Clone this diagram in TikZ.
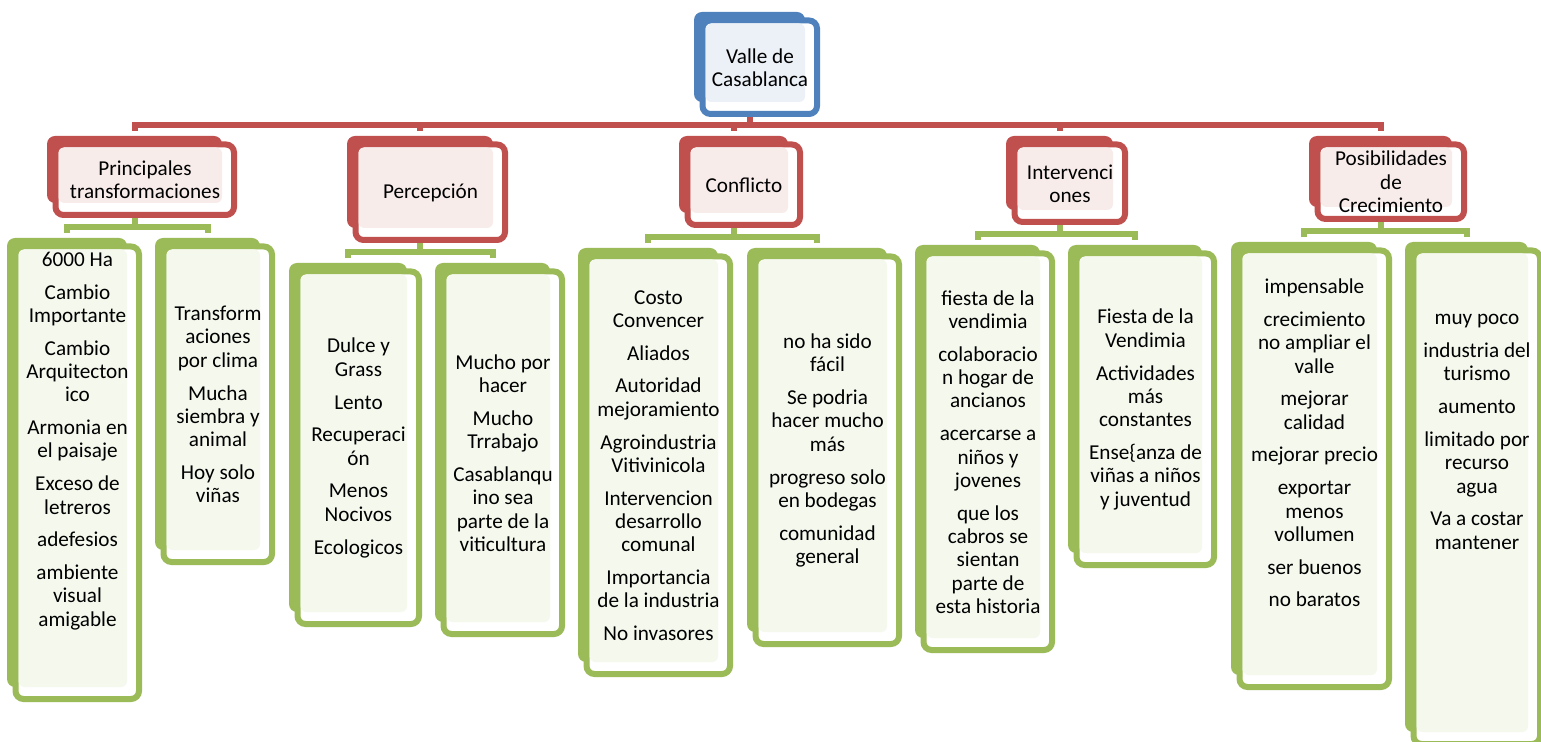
\documentclass[tikz,border=0pt]{standalone}
\usepackage{fontspec}
\setmainfont{Carlito}
\usetikzlibrary{calc,fit,backgrounds}

\definecolor{azul}{HTML}{4F81BD}
\definecolor{rojo}{HTML}{C0504D}
\definecolor{verde}{HTML}{9BBB59}

\tikzset{
  texto/.style={align=center, inner sep=0pt, font=\fontsize{10.6pt}{11.65pt}\selectfont},
  conector/.style={line width=3pt},
}

% caja doble: [subir texto] nombre, color, caja de atras (x0,y0)--(x1,y1), texto
\newcommand{\caja}[8][0pt]{%
  \fill[#3, rounded corners=4pt] (#4,#5) rectangle (#6,#7);
  \draw[#3, fill=white, line width=3pt, rounded corners=4pt] (#4+8.5,#5+8.5) rectangle (#6+12,#7+12);
  \fill[#3!11, rounded corners=3pt] (#4+11.5,#5+11.5) rectangle (#6,#7);
  \node[fit={(#4,#5) (#6,#7)}, inner sep=0pt,
    label={[texto, xshift=5.25pt, yshift=-5.25pt+#1]center:{#8}}] (#2) {};
}

\begin{document}
\begin{tikzpicture}[x=0.5pt, y=-0.5pt]
  \useasboundingbox (0,0) rectangle (1541,742);
  \clip (0,0) rectangle (1541,742);

  \caja{valle}{azul}{694}{12}{805}{102}{Valle de\\Casablanca}

  \caja{tra}{rojo}{47}{136}{222}{203}{Principales\\transformaciones}
  \caja{per}{rojo}{347}{136}{493}{228}{Percepción}
  \caja{con}{rojo}{679}{136}{788}{213}{Conflicto}
  \caja{int}{rojo}{1006}{136}{1113}{210}{Intervenci\\ones}
  \caja{pos}{rojo}{1309}{136}{1452}{207}{Posibilidades\\de\\Crecimiento}

  \caja[16pt]{traA}{verde}{7}{238}{127}{687}{6000 Ha\\[4.75pt] Cambio\\Importante\\[4.75pt] Cambio\\Arquitecton\\ico\\[4.75pt] Armonia en\\el paisaje\\[4.75pt] Exceso de\\letreros\\[4.75pt] adefesios\\[4.75pt] ambiente\\visual\\amigable}
  \caja{traB}{verde}{155}{238}{260}{550}{Transform\\aciones\\por clima\\[4.75pt] Mucha\\siembra y\\animal\\[4.75pt] Hoy solo\\viñas}

  \caja{perA}{verde}{289}{263}{407}{612}{Dulce y\\Grass\\[4.75pt] Lento\\[4.75pt] Recuperaci\\ón\\[4.75pt] Menos\\Nocivos\\[4.75pt] Ecologicos}
  \caja{perB}{verde}{435}{263}{550}{622}{Mucho por\\hacer\\[4.75pt] Mucho\\Trrabajo\\[4.75pt] Casablanqu\\ino sea\\parte de la\\viticultura}

  \caja{conA}{verde}{578}{248}{718}{662}{Costo\\Convencer\\[4.75pt] Aliados\\[4.75pt] Autoridad\\mejoramiento\\[4.75pt] Agroindustria\\Vitivinicola\\[4.75pt] Intervencion\\desarrollo\\comunal\\[4.75pt] Importancia\\de la industria\\[4.75pt] No invasores}
  \caja{conB}{verde}{747}{248}{887}{632}{no ha sido\\fácil\\[4.75pt] Se podria\\hacer mucho\\más\\[4.75pt] progreso solo\\en bodegas\\[4.75pt] comunidad\\general}

  \caja{intA}{verde}{915}{245}{1040}{638}{fiesta de la\\vendimia\\[4.75pt] colaboracio\\n hogar de\\ancianos\\[4.75pt] acercarse a\\niños y\\jovenes\\[4.75pt] que los\\cabros se\\sientan\\parte de\\esta historia}
  \caja{intB}{verde}{1068}{245}{1202}{553}{Fiesta de la\\Vendimia\\[4.75pt] Actividades\\más\\constantes\\[4.75pt] Ense\{anza de\\viñas a niños\\y juventud}

  \caja[13pt]{posA}{verde}{1231}{242}{1377}{675}{impensable\\[4.75pt] crecimiento\\no ampliar el\\valle\\[4.75pt] mejorar\\calidad\\[4.75pt] mejorar precio\\[4.75pt] exportar\\menos\\vollumen\\[4.75pt] ser buenos\\[4.75pt] no baratos}
  \caja[32.75pt]{posB}{verde}{1405}{242}{1528}{732}{muy poco\\[4.75pt] industria del\\turismo\\[4.75pt] aumento\\[4.75pt] limitado por\\recurso\\agua\\[4.75pt] Va a costar\\mantener}

  \begin{scope}[on background layer]
    % valle -> temas
    \draw[conector, rojo] (valle.south) -- ($(valle.south |- tra.north)+(0,-11)$) -| ($(tra.north)+(0,-5)$);
    \draw[conector, rojo] (valle.south) -- ($(valle.south |- per.north)+(0,-11)$) -| ($(per.north)+(0,-5)$);
    \draw[conector, rojo] (valle.south) -- ($(valle.south |- con.north)+(0,-11)$) -| ($(con.north)+(0,-5)$);
    \draw[conector, rojo] (valle.south) -- ($(valle.south |- int.north)+(0,-11)$) -| ($(int.north)+(0,-5)$);
    \draw[conector, rojo] (valle.south) -- ($(valle.south |- pos.north)+(0,-11)$) -| ($(pos.north)+(0,-5)$);
    % temas -> ideas
    \draw[conector, verde] (tra.south) -- ($(tra.south |- traA.north)+(0,-11)$) -| ($(traA.north)+(0,-5)$);
    \draw[conector, verde] (tra.south) -- ($(tra.south |- traB.north)+(0,-11)$) -| ($(traB.north)+(0,-5)$);
    \draw[conector, verde] (per.south) -- ($(per.south |- perA.north)+(0,-11)$) -| ($(perA.north)+(0,-5)$);
    \draw[conector, verde] (per.south) -- ($(per.south |- perB.north)+(0,-11)$) -| ($(perB.north)+(0,-5)$);
    \draw[conector, verde] (con.south) -- ($(con.south |- conA.north)+(0,-11)$) -| ($(conA.north)+(0,-5)$);
    \draw[conector, verde] (con.south) -- ($(con.south |- conB.north)+(0,-11)$) -| ($(conB.north)+(0,-5)$);
    \draw[conector, verde] (int.south) -- ($(int.south |- intA.north)+(0,-11)$) -| ($(intA.north)+(0,-5)$);
    \draw[conector, verde] (int.south) -- ($(int.south |- intB.north)+(0,-11)$) -| ($(intB.north)+(0,-5)$);
    \draw[conector, verde] (pos.south) -- ($(pos.south |- posA.north)+(0,-11)$) -| ($(posA.north)+(0,-5)$);
    \draw[conector, verde] (pos.south) -- ($(pos.south |- posB.north)+(0,-11)$) -| ($(posB.north)+(0,-5)$);
  \end{scope}
\end{tikzpicture}
\end{document}
